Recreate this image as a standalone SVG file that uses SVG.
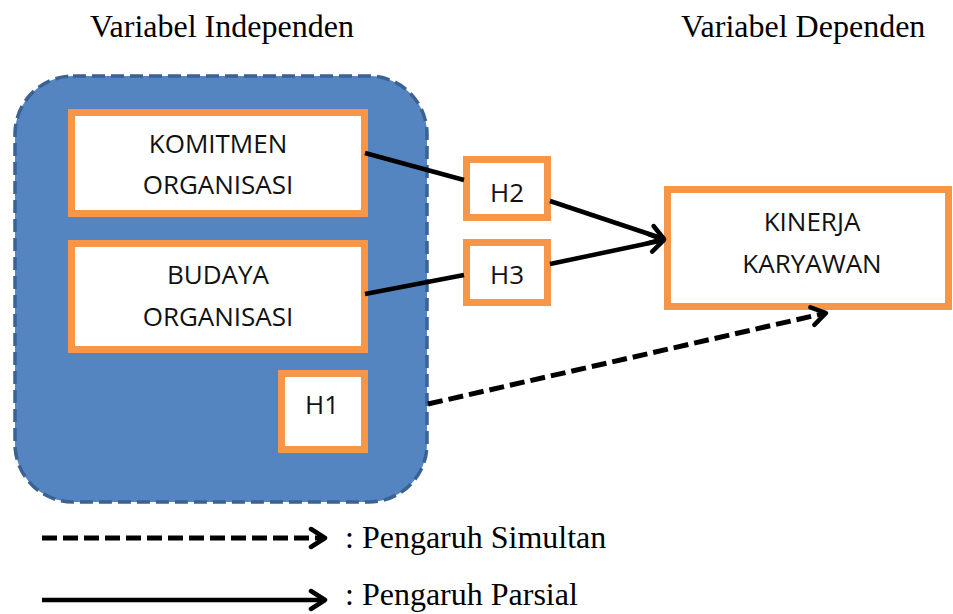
<svg xmlns="http://www.w3.org/2000/svg" width="953" height="614" viewBox="0 0 953 614">
<style>
.title{font-family:"Liberation Serif","Times New Roman",serif;font-size:32px;fill:#000}
.lab{font-family:"Open Sans","Noto Sans",sans-serif;font-size:26px;fill:#111;text-anchor:middle}
.box{fill:#fff;stroke:#f79646;stroke-width:7}
.ln{stroke:#000;stroke-width:4.5;fill:none}
.dash{stroke-dasharray:15 6;stroke-width:5}
</style>
<defs>
<marker id="arr" markerUnits="userSpaceOnUse" markerWidth="24" markerHeight="24" refX="20" refY="12" orient="auto" viewBox="0 0 24 24">
<path d="M6,3 L20,12 L6,21" fill="none" stroke="#000" stroke-width="4.5" stroke-linecap="round" stroke-linejoin="round"/>
</marker>
</defs>
<rect width="953" height="614" fill="#fff"/>
<text class="title" x="90" y="37">Variabel Independen</text>
<text class="title" x="681" y="37">Variabel Dependen</text>
<g id="independen">
<rect x="15" y="76" width="412" height="426" rx="58" ry="58" fill="#5585c0" stroke="#3a6294" stroke-width="3.5" stroke-dasharray="13 6"/>
</g>
<g id="komitmen">
<rect class="box" x="71.5" y="112.5" width="293" height="101"/>
<text class="lab" x="218" y="153">KOMITMEN</text>
<text class="lab" x="218" y="194">ORGANISASI</text>
</g>
<g id="budaya">
<rect class="box" x="71.5" y="243.5" width="293" height="106"/>
<text class="lab" x="218" y="284">BUDAYA</text>
<text class="lab" x="218" y="326">ORGANISASI</text>
</g>
<g id="h1">
<rect class="box" x="281.5" y="373.5" width="83" height="76"/>
<text class="lab" x="322" y="414">H1</text>
</g>
<g id="h2">
<rect class="box" x="466.5" y="159.5" width="81" height="58"/>
<text class="lab" x="507" y="202">H2</text>
</g>
<g id="h3">
<rect class="box" x="466.5" y="242.5" width="81" height="60"/>
<text class="lab" x="507" y="284">H3</text>
</g>
<g id="kinerja">
<rect class="box" x="667.5" y="189.5" width="281" height="117"/>
<text class="lab" x="812" y="231">KINERJA</text>
<text class="lab" x="812" y="273">KARYAWAN</text>
</g>
<g id="connectors">
<line class="ln" x1="365" y1="153" x2="464" y2="180"/>
<line class="ln" x1="550" y1="201" x2="664" y2="239" marker-end="url(#arr)"/>
<line class="ln" x1="365" y1="294" x2="464" y2="275"/>
<line class="ln" x1="550" y1="264" x2="664" y2="240" marker-end="url(#arr)"/>
<line class="ln dash" x1="428" y1="404" x2="826" y2="313" marker-end="url(#arr)"/>
</g>
<g id="legend">
<line class="ln dash" x1="42" y1="538" x2="325" y2="538" marker-end="url(#arr)"/>
<text class="title" x="345" y="548">: Pengaruh Simultan</text>
<line class="ln" x1="42" y1="600" x2="325" y2="600" marker-end="url(#arr)"/>
<text class="title" x="345" y="605">: Pengaruh Parsial</text>
</g>
</svg>
